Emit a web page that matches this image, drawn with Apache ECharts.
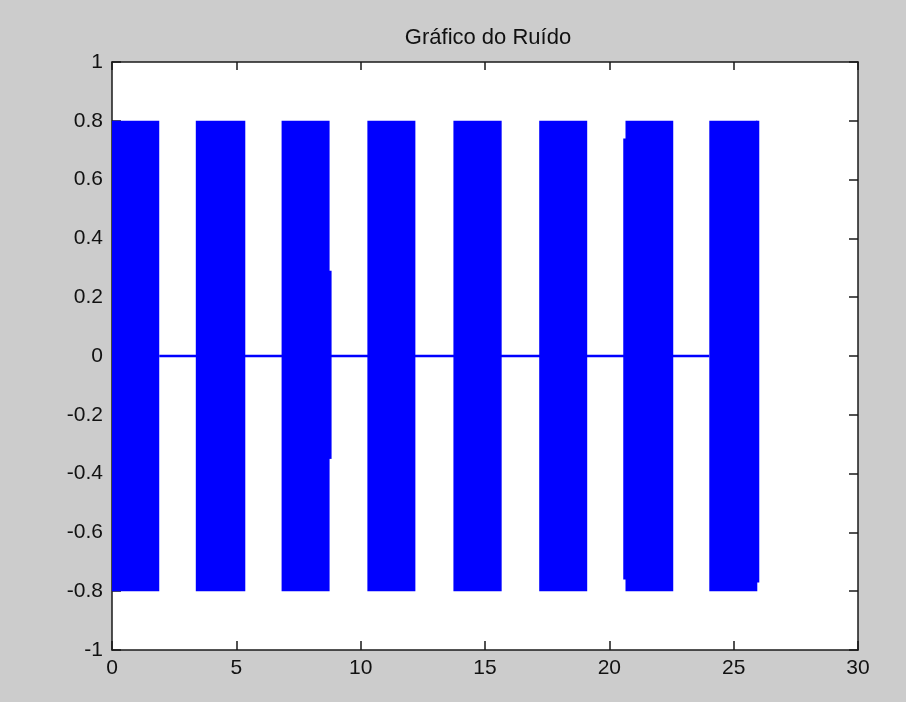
<!DOCTYPE html>
<html>
<head>
<meta charset="utf-8">
<script src="https://cdn.jsdelivr.net/npm/echarts@6/dist/echarts.min.js"></script>
<style>
html,body{margin:0;padding:0;background:#cccccc;}
#chart{width:906px;height:702px;}
</style>
</head>
<body>
<div id="chart"></div>
<script>
// Noise bursts (signal oscillates densely between low and high inside each burst)
const blockStart = [0, 3.37, 6.82, 10.27, 13.73, 17.18, 20.65, 24.02];
const blockEnd   = [1.90, 5.36, 8.75, 12.20, 15.67, 19.11, 22.57, 25.95];
const blockLow   = [-0.8, -0.8, -0.8, -0.8, -0.8, -0.8, -0.8, -0.8];
const blockHigh  = [0.8, 0.8, 0.8, 0.8, 0.8, 0.8, 0.8, 0.8];
// Small partial-amplitude edges of some bursts (overlapping the burst edge)
const fringeStart = [8.70, 20.56, 25.90];
const fringeEnd   = [8.83, 20.70, 26.03];
const fringeLow   = [-0.35, -0.76, -0.77];
const fringeHigh  = [0.29, 0.74, 0.80];
// Silent (zero) signal between bursts
const zeroX = [1.90, 24.02];
const zeroY = [0, 0];
// Axes
const xMin = 0, xMax = 30, xStep = 5;
const yMin = -1, yMax = 1, yStep = 0.2;
const titleText = 'Gráfico do Ruído';

const rects = [];
blockStart.forEach((s, i) => rects.push([s, blockEnd[i], blockLow[i], blockHigh[i]]));
fringeStart.forEach((s, i) => rects.push([s, fringeEnd[i], fringeLow[i], fringeHigh[i]]));
const zeroData = zeroX.map((x, i) => [x, zeroY[i]]);

const font = '"Liberation Sans", Arial, sans-serif';
const axisLineStyle = {color: '#1a1a1a', width: 1.5};
const chart = echarts.init(document.getElementById('chart'));
chart.setOption({
  backgroundColor: '#cccccc',
  animation: false,
  title: {
    text: titleText, left: 483, top: 22, textAlign: 'center',
    textStyle: {fontFamily: font, fontSize: 22, fontWeight: 'normal', color: '#111'}
  },
  grid: {left: 112, right: 48, top: 62, bottom: 52, show: true, backgroundColor: '#ffffff', borderWidth: 0},
  xAxis: [
    {type: 'value', min: xMin, max: xMax, interval: xStep, position: 'bottom',
     axisLine: {show: true, onZero: false, lineStyle: axisLineStyle},
     axisTick: {show: true, inside: true, length: 9, lineStyle: axisLineStyle},
     axisLabel: {fontFamily: font, fontSize: 21, color: '#111', margin: 8},
     splitLine: {show: false}},
    {type: 'value', min: xMin, max: xMax, interval: xStep, position: 'top',
     axisLine: {show: true, onZero: false, lineStyle: axisLineStyle},
     axisTick: {show: true, inside: true, length: 8, lineStyle: axisLineStyle},
     axisLabel: {show: false}, splitLine: {show: false}}
  ],
  yAxis: [
    {type: 'value', min: yMin, max: yMax, interval: yStep, position: 'left',
     axisLine: {show: true, onZero: false, lineStyle: axisLineStyle},
     axisTick: {show: true, inside: true, length: 9, lineStyle: axisLineStyle},
     axisLabel: {fontFamily: font, fontSize: 21, color: '#111', margin: 9},
     splitLine: {show: false}},
    {type: 'value', min: yMin, max: yMax, interval: yStep, position: 'right',
     axisLine: {show: true, onZero: false, lineStyle: axisLineStyle},
     axisTick: {show: true, inside: true, length: 9, lineStyle: axisLineStyle},
     axisLabel: {show: false}, splitLine: {show: false}}
  ],
  series: [
    {type: 'line', data: zeroData, xAxisIndex: 0, yAxisIndex: 0, symbol: 'none',
     lineStyle: {color: '#0000ff', width: 2.5}, z: 2},
    {type: 'custom', data: rects, xAxisIndex: 0, yAxisIndex: 0, z: 3,
     encode: {x: [0, 1], y: [2, 3]},
     renderItem: function (params, api) {
       const p0 = api.coord([api.value(0), api.value(3)]);
       const p1 = api.coord([api.value(1), api.value(2)]);
       return {type: 'rect',
         shape: {x: p0[0], y: p0[1], width: p1[0] - p0[0], height: p1[1] - p0[1]},
         style: {fill: '#0000ff', stroke: null}};
     }}
  ]
});
</script>
</body>
</html>
